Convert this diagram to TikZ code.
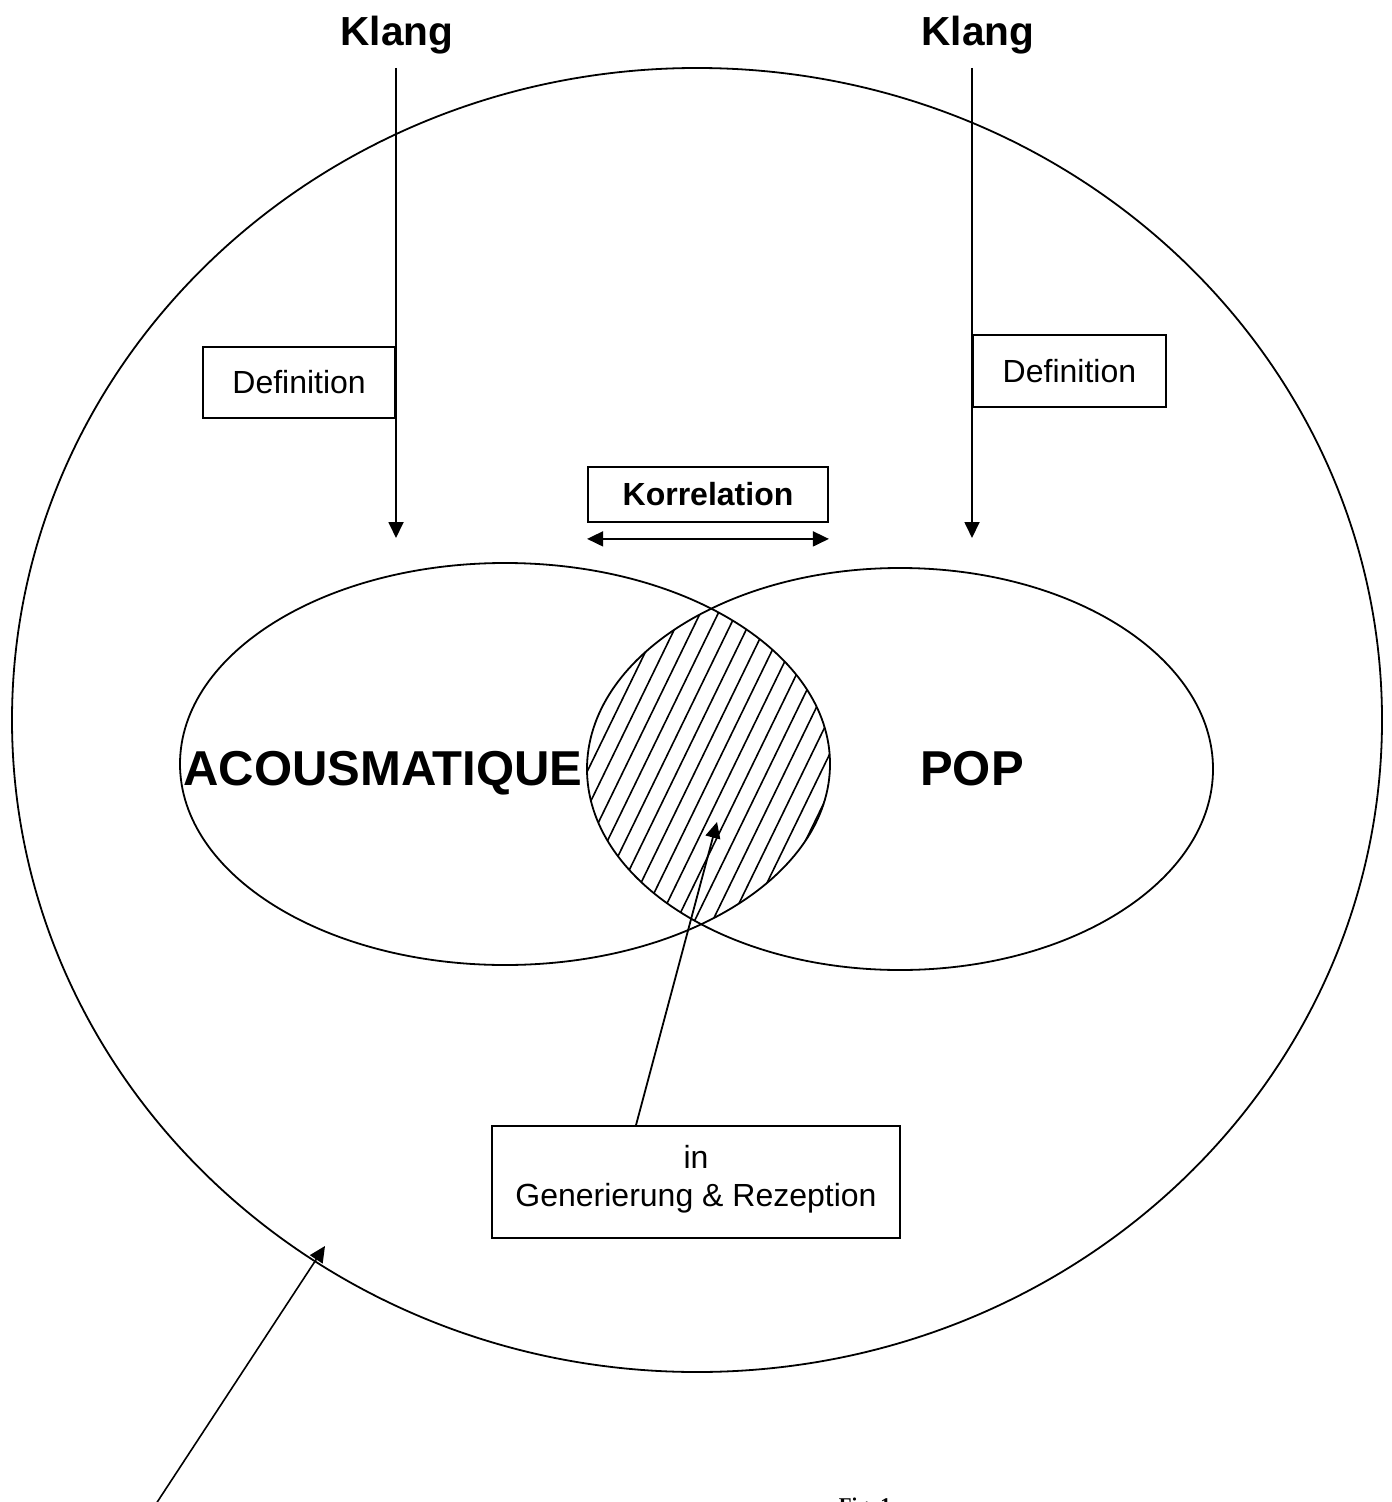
\documentclass[tikz,border=0pt]{standalone}
\usepackage{fontspec}
\setmainfont{Liberation Sans}
\newfontfamily\capfont{Liberation Serif}
\usetikzlibrary{arrows.meta,positioning}

\begin{document}
\begin{tikzpicture}[x=0.5pt,y=-0.5pt,>={Triangle[length=8pt,width=7.5pt]},line width=0.9pt]
\tikzstyle{every node}=[font=\fontsize{16}{19}\selectfont]
\tikzstyle{box}=[draw,rectangle,line width=0.9pt,inner sep=0pt,align=center]
\tikzstyle{head}=[font=\fontsize{20.3}{24}\selectfont\bfseries,inner sep=0pt]
\tikzstyle{big}=[font=\fontsize{24.5}{29}\selectfont\bfseries,inner sep=0pt]
\tikzstyle{hatch}=[line width=0.8pt]
\useasboundingbox (0,0) rectangle (1391,1502);
\begin{scope}
\clip (0,0) rectangle (1391,1502);
% the big set and the two sets
\draw (697,720) ellipse [x radius=685, y radius=652];
\draw (505,764) ellipse [x radius=325, y radius=201];
\draw (900,769) ellipse [x radius=313, y radius=201];
% hatched overlap
\begin{scope}
\clip (505,764) ellipse [x radius=325, y radius=201];
\clip (900,769) ellipse [x radius=313, y radius=201];
\foreach \x in {440,458,...,770}
  \draw[hatch] (\x,1000) -- (\x+219,550);
\end{scope}
\node[big,anchor=base] (acou) at (383,785) {ACOUSMATIQUE};
\node[big,anchor=base] (pop) at (972,785) {POP};
% sound comes in from above
\node[head,anchor=base] (klangL) at (397,46) {Klang};
\node[head,anchor=base] (klangR) at (978,46) {Klang};
\coordinate (startL) at (396,68);
\coordinate (startR) at (972,68);
\coordinate (tipL) at (396,538);
\coordinate (tipR) at (972,538);
\draw[->] (startL) -- (tipL);
\draw[->] (startR) -- (tipR);
\node[box,anchor=east,minimum width=96pt,minimum height=35.5pt] (defL) at (396,382.5) {Definition};
\node[box,anchor=west,minimum width=96.5pt,minimum height=36pt] (defR) at (972,371) {Definition};
% correlation between the two
\node[box,font=\fontsize{16}{19}\selectfont\bfseries,minimum width=120pt,minimum height=27.5pt] (korr) at (708,494.5) {Korrelation};
\draw[<->] ([yshift=-8pt]korr.south west) -- ([yshift=-8pt]korr.south east);
\node[box,minimum width=204pt,minimum height=56pt,text depth=6pt] (gen) at (696,1182) {in\\Generierung \& Rezeption};
\coordinate (lens) at (717,822);
\draw[->] ([xshift=-30pt]gen.north) -- (lens);
% pointer to the big set
\coordinate (tail) at (152,1510);
\coordinate (outer) at (325,1246);
\draw[->,line width=0.8pt] (tail) -- (outer);
\node[anchor=base west,inner sep=0pt,font=\capfont\fontsize{10.5}{12}\selectfont\bfseries] (cap) at (838,1512) {Fig. 1};
\end{scope}
\end{tikzpicture}
\end{document}
